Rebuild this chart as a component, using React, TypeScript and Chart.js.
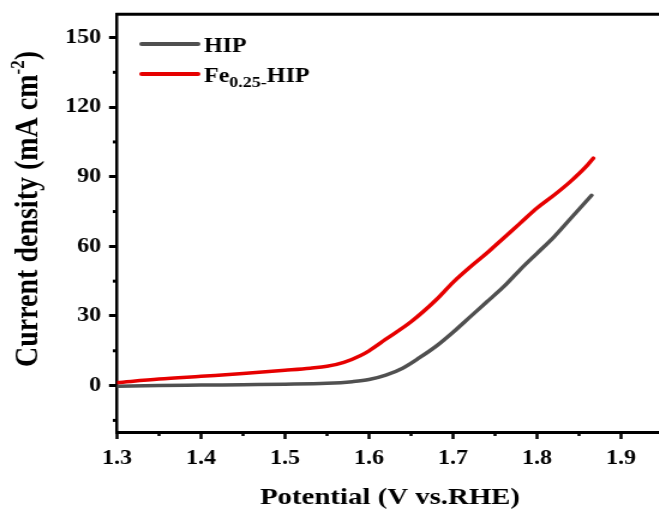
import { useEffect, useRef } from 'react';
import { Chart, registerables } from 'chart.js';

Chart.register(...registerables);

// ---- data ----
const HIP_X = [1.3, 1.35, 1.4, 1.45, 1.5, 1.55, 1.58, 1.6, 1.62, 1.64, 1.66, 1.68, 1.7, 1.72, 1.74, 1.76, 1.78, 1.8, 1.82, 1.84, 1.865];
const HIP_Y = [-0.3, 0.0, 0.2, 0.4, 0.6, 1.0, 1.7, 2.6, 4.5, 7.5, 12.0, 17.0, 23.0, 29.5, 36.0, 42.5, 50.0, 57.0, 64.0, 72.0, 82.0];
const FE_X = [1.3, 1.35, 1.4, 1.45, 1.5, 1.53, 1.55, 1.57, 1.59, 1.6, 1.62, 1.65, 1.68, 1.7, 1.72, 1.74, 1.76, 1.78, 1.8, 1.82, 1.84, 1.86, 1.867];
const FE_Y = [1.3, 2.8, 4.0, 5.2, 6.6, 7.5, 8.3, 10.0, 13.0, 15.0, 20.0, 27.5, 37.0, 44.5, 51.0, 57.0, 63.5, 70.0, 76.5, 82.0, 88.0, 95.0, 98.0];

const X_TICKS = [1.3, 1.4, 1.5, 1.6, 1.7, 1.8, 1.9];
const Y_TICKS = [0, 30, 60, 90, 120, 150];
const SERIES_LABELS = ['HIP', 'Fe0.25-HIP'];
const X_TITLE = 'Potential (V vs.RHE)';
const Y_TITLE_MAIN = 'Current density (mA cm';
const Y_TITLE_SUP = '-2';
const Y_TITLE_END = ')';

const SX = 1.2; // horizontal stretch of the original figure
const W = 555;
const H = 512;
const FONT = '"Liberation Serif", "Times New Roman", serif';
const GRAY = '#505050';
const RED = '#e60000';

export default function App() {
  const ref = useRef<HTMLCanvasElement>(null);

  useEffect(() => {
    const canvas = ref.current!;

    const frame = {
      id: 'frame',
      afterDraw(chart: any) {
        const { ctx, chartArea } = chart;
        const xs = chart.scales.x;
        const ys = chart.scales.y;
        ctx.save();
        ctx.strokeStyle = '#000';
        // top & right border
        ctx.lineWidth = 3;
        ctx.beginPath();
        ctx.moveTo(chartArea.left - 1.25, chartArea.top);
        ctx.lineTo(chartArea.right, chartArea.top);
        ctx.stroke();
        ctx.lineWidth = 2.5;
        ctx.beginPath();
        ctx.moveTo(chartArea.right, chartArea.top);
        ctx.lineTo(chartArea.right, chartArea.bottom);
        ctx.stroke();
        // minor ticks
        ctx.lineWidth = 2.5;
        for (let i = 0; i < X_TICKS.length; i++) {
          const v = X_TICKS[i] + (X_TICKS[1] - X_TICKS[0]) / 2;
          const px = xs.getPixelForValue(v);
          if (px > chartArea.right + 1) continue;
          ctx.beginPath();
          ctx.moveTo(px, chartArea.bottom);
          ctx.lineTo(px, chartArea.bottom + 4);
          ctx.stroke();
        }
        ctx.lineWidth = 3;
        for (let i = -1; i < Y_TICKS.length; i++) {
          const step = Y_TICKS[1] - Y_TICKS[0];
          const v = (i < 0 ? Y_TICKS[0] - step : Y_TICKS[i]) + step / 2;
          const py = ys.getPixelForValue(v);
          if (py < chartArea.top || py > chartArea.bottom) continue;
          ctx.beginPath();
          ctx.moveTo(chartArea.left - 3.5, py);
          ctx.lineTo(chartArea.left, py);
          ctx.stroke();
        }

        // legend
        const ds = chart.data.datasets;
        const rows = [44, 74];
        ds.forEach((d: any, i: number) => {
          const y = rows[i];
          ctx.strokeStyle = d.borderColor;
          ctx.lineWidth = 4;
          ctx.lineCap = 'round';
          ctx.beginPath();
          ctx.moveTo(118, y);
          ctx.lineTo(165, y);
          ctx.stroke();
          ctx.fillStyle = '#000';
          ctx.textBaseline = 'alphabetic';
          ctx.textAlign = 'left';
          const m = /^([A-Za-z]+)([\d.]+-?)(.*)$/.exec(d.label);
          let x = 170;
          const base = y + 8;
          if (m) {
            ctx.font = `bold 20px ${FONT}`;
            ctx.fillText(m[1], x, base);
            x += ctx.measureText(m[1]).width;
            ctx.font = `bold 15px ${FONT}`;
            ctx.fillText(m[2], x, base + 5);
            x += ctx.measureText(m[2]).width;
            ctx.font = `bold 20px ${FONT}`;
            ctx.fillText(m[3], x, base);
          } else {
            ctx.font = `bold 20px ${FONT}`;
            ctx.fillText(d.label, x, base);
          }
        });

        // y axis title with superscript
        ctx.save();
        ctx.translate(30.8, 209);
        ctx.rotate(-Math.PI / 2);
        ctx.fillStyle = '#000';
        ctx.textBaseline = 'alphabetic';
        ctx.textAlign = 'left';
        ctx.font = `bold 28px ${FONT}`;
        const w1 = ctx.measureText(Y_TITLE_MAIN).width;
        const w3 = ctx.measureText(Y_TITLE_END).width;
        ctx.font = `bold 17px ${FONT}`;
        const w2 = ctx.measureText(Y_TITLE_SUP).width;
        let tx = -(w1 + w2 + w3) / 2;
        ctx.font = `bold 28px ${FONT}`;
        ctx.fillText(Y_TITLE_MAIN, tx, 0);
        tx += w1;
        ctx.font = `bold 17px ${FONT}`;
        ctx.fillText(Y_TITLE_SUP, tx, -11);
        tx += w2;
        ctx.font = `bold 28px ${FONT}`;
        ctx.fillText(Y_TITLE_END, tx, 0);
        ctx.restore();

        ctx.restore();
      },
    };

    const chart = new Chart(canvas, {
      type: 'line',
      data: {
        datasets: [
          {
            label: SERIES_LABELS[0],
            data: HIP_X.map((x, i) => ({ x, y: HIP_Y[i] })),
            borderColor: GRAY,
            borderWidth: 3.5,
            pointRadius: 0,
            fill: false,
            cubicInterpolationMode: 'monotone',
            borderCapStyle: 'round',
            borderJoinStyle: 'round',
            order: 1,
          },
          {
            label: SERIES_LABELS[1],
            data: FE_X.map((x, i) => ({ x, y: FE_Y[i] })),
            borderColor: RED,
            borderWidth: 3.5,
            pointRadius: 0,
            fill: false,
            cubicInterpolationMode: 'monotone',
            borderCapStyle: 'round',
            borderJoinStyle: 'round',
            order: 0,
          },
        ],
      },
      options: {
        responsive: false,
        animation: false,
        devicePixelRatio: 1,
        layout: { padding: { top: 14.3, right: 2.5, left: 0, bottom: 0 } },
        plugins: { legend: { display: false }, tooltip: { enabled: false } },
        scales: {
          x: {
            type: 'linear',
            min: 1.3,
            max: 1.95,
            afterBuildTicks: (s: any) => {
              s.ticks = X_TICKS.map((v) => ({ value: v }));
            },
            afterFit: (s: any) => {
              s.height = 80;
              s.paddingLeft = 0;
              s.paddingRight = 0;
            },
            grid: { drawOnChartArea: false, drawTicks: true, tickLength: 7, tickWidth: 2.5, tickColor: '#000' },
            border: { display: true, color: '#000', width: 3 },
            ticks: {
              color: '#000',
              font: { family: FONT, size: 20, weight: 'bold' },
              padding: 8,
              maxRotation: 0,
              autoSkip: false,
              callback: (v: any) => Number(v).toFixed(1),
            },
            title: {
              display: true,
              text: X_TITLE,
              color: '#000',
              font: { family: FONT, size: 24, weight: 'bold' },
              padding: { top: 0, bottom: 0 },
            },
          },
          y: {
            type: 'linear',
            min: -20,
            max: 160,
            afterBuildTicks: (s: any) => {
              s.ticks = Y_TICKS.map((v) => ({ value: v }));
            },
            afterFit: (s: any) => {
              s.width = 97.5;
              s.paddingTop = 0;
              s.paddingBottom = 0;
            },
            grid: { drawOnChartArea: false, drawTicks: true, tickLength: 6.7, tickWidth: 3, tickColor: '#000' },
            border: { display: true, color: '#000', width: 2.5 },
            ticks: {
              color: '#000',
              font: { family: FONT, size: 20, weight: 'bold' },
              padding: 6.6,
              autoSkip: false,
              callback: (v: any) => String(v),
            },
          },
        },
      },
      plugins: [frame],
    } as any);

    return () => chart.destroy();
  }, []);

  return (
    <div style={{ position: 'fixed', left: 0, top: 0, width: 659, height: 512, overflow: 'hidden', background: '#fff' }}>
      <canvas ref={ref} width={W} height={H} style={{ width: `${W * SX}px`, height: `${H}px`, display: 'block' }} />
    </div>
  );
}
